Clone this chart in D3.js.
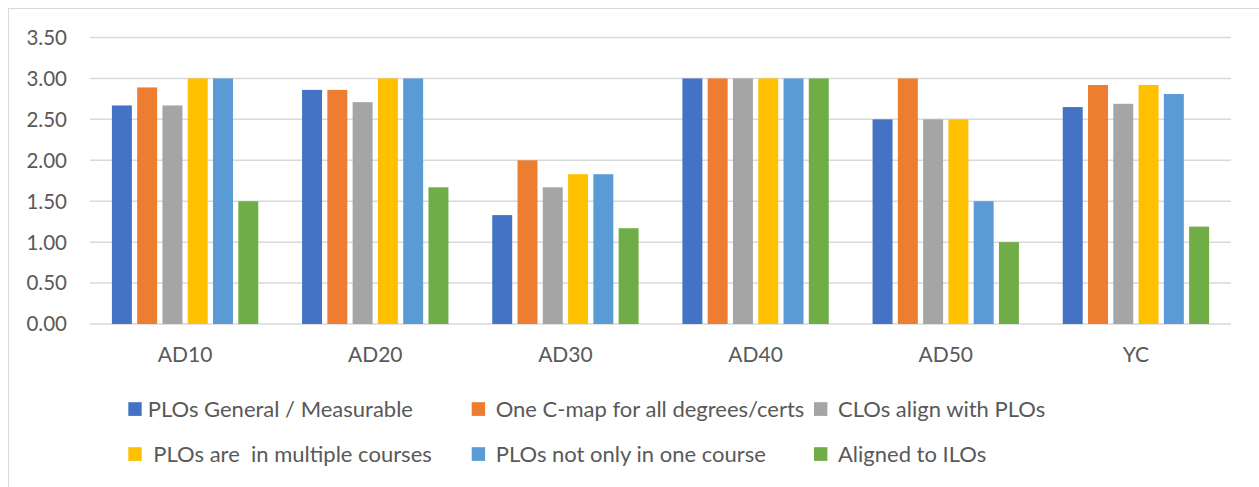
<!DOCTYPE html>
<html><head><meta charset="utf-8">
<script src="https://cdn.jsdelivr.net/npm/d3@7/dist/d3.min.js"></script>
<style>body{margin:0;background:#fff;} text{font-family:Lato, "Open Sans", sans-serif;}</style>
</head><body><svg id="c" width="1259" height="487"></svg>
<script>
const categories = ["AD10","AD20","AD30","AD40","AD50","YC"];
const seriesNames = ["PLOs General / Measurable","One C-map for all degrees/certs","CLOs align with PLOs"," PLOs are  in multiple courses","PLOs not only in one course","Aligned to ILOs"];
const seriesColors = ["#4472C4","#ED7D31","#A5A5A5","#FFC000","#5B9BD5","#70AD47"];
const plosGeneral   = [2.67,2.86,1.33,3.00,2.50,2.65];
const oneCmap       = [2.89,2.86,2.00,3.00,3.00,2.92];
const closAlign     = [2.67,2.71,1.67,3.00,2.50,2.69];
const plosMultiple  = [3.00,3.00,1.83,3.00,2.50,2.92];
const plosNotOne    = [3.00,3.00,1.83,3.00,1.50,2.81];
const alignedILOs   = [1.50,1.67,1.17,3.00,1.00,1.19];
const yTicks = [0,0.5,1,1.5,2,2.5,3,3.5];
const series = [plosGeneral,oneCmap,closAlign,plosMultiple,plosNotOne,alignedILOs];

const svg = d3.select("#c");
// chart border
svg.append("rect").attr("x",8.5).attr("y",8.5).attr("width",1300).attr("height",600)
  .attr("fill","none").attr("stroke","#D9D9D9").attr("stroke-width",1);

const y = d3.scaleLinear().domain([0,3.5]).range([324,37.5]);
const x0 = d3.scaleBand().domain(categories).range([90,1231]).padding(0);
const inner = 21.9;
const x1 = d3.scaleBand().domain(d3.range(series.length))
  .range([inner, x0.bandwidth()-inner]).paddingInner(0.21).paddingOuter(0);

// gridlines
svg.append("g").selectAll("line").data(yTicks).join("line")
  .attr("x1",90).attr("x2",1231).attr("y1",d=>y(d)).attr("y2",d=>y(d))
  .attr("stroke","#D9D9D9").attr("stroke-width",1.5);

// y tick labels
svg.append("g").selectAll("text").data(yTicks).join("text")
  .attr("x",67).attr("y",d=>y(d)).attr("dy","0.36em").attr("text-anchor","end")
  .attr("fill","#595959").attr("font-size",20.5).text(d=>d3.format(".2f")(d));

// bars
const g = svg.append("g");
categories.forEach((c,ci)=>{
  series.forEach((s,si)=>{
    g.append("rect")
      .attr("x",x0(c)+x1(si)).attr("width",x1.bandwidth())
      .attr("y",y(s[ci])).attr("height",y(0)-y(s[ci]))
      .attr("fill",seriesColors[si]);
  });
});

// category labels
svg.append("g").selectAll("text").data(categories).join("text")
  .attr("x",d=>x0(d)+x0.bandwidth()/2).attr("y",362.3)
  .attr("text-anchor","middle").attr("fill","#595959").attr("font-size",21).text(d=>d);

// legend
const legX = [128.3, 471.7, 814];
const legY = [409, 454];
seriesNames.forEach((n,i)=>{
  const col = i%3, row = Math.floor(i/3);
  svg.append("rect").attr("x",legX[col]).attr("y",legY[row]-6.8).attr("width",13.4).attr("height",13.7)
    .attr("fill",seriesColors[i]);
  svg.append("text").attr("x",legX[col]+(col===0?19.4:24)).attr("y",legY[row]).attr("dy","0.36em")
    .attr("fill","#595959").attr("font-size",22).attr("xml:space","preserve").style("white-space","pre").text(n);
});
</script></body></html>
